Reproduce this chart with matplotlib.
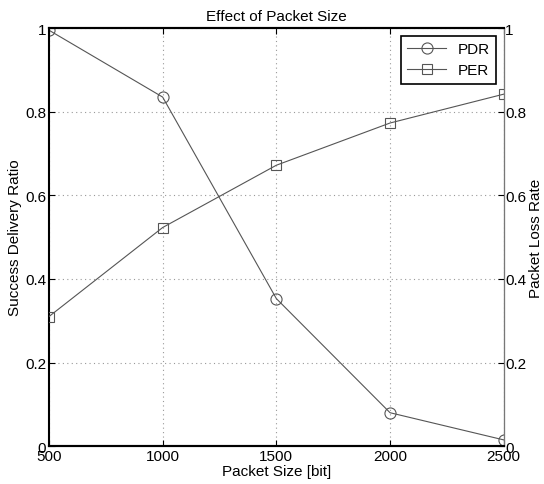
import matplotlib
matplotlib.use('Agg')
import matplotlib.pyplot as plt

plt.rcParams['font.family'] = ['Liberation Sans', 'DejaVu Sans']

packet_size = [500, 1000, 1500, 2000, 2500]
pdr = [0.995, 0.835, 0.353, 0.080, 0.015]
per = [0.310, 0.523, 0.672, 0.773, 0.842]

xticks = [500, 1000, 1500, 2000, 2500]
yticks = [0, 0.2, 0.4, 0.6, 0.8, 1]
ytick_labels = ['0', '0.2', '0.4', '0.6', '0.8', '1']

fig = plt.figure(figsize=(5.44, 4.85), dpi=100)
ax1 = fig.add_axes([0.090, 0.078, 0.836, 0.862])
ax2 = ax1.twinx()

line_col = '#555555'
l1, = ax1.plot(packet_size, pdr, color=line_col, lw=0.8, marker='o', ms=8,
               mfc='none', mec=line_col, mew=0.8, label='PDR')
l2, = ax2.plot(packet_size, per, color=line_col, lw=0.8, marker='s', ms=7,
               mfc='none', mec=line_col, mew=0.8, label='PER')

for ax in (ax1, ax2):
    ax.set_xlim(500, 2500)
    ax.set_ylim(0, 1)
    ax.set_yticks(yticks)
    ax.set_yticklabels(ytick_labels)
    ax.tick_params(direction='in', length=4, labelsize=11, pad=2)
ax2.tick_params(pad=1)
ax1.set_xticks(xticks)
ax1.tick_params(top=True)
ax1.grid(True, color='#999999', linestyle=(0, (1, 3)), linewidth=0.8)

for s in ['left', 'bottom', 'top']:
    ax1.spines[s].set_linewidth(1.5)
ax2.spines['right'].set_color('#777777')
ax2.spines['left'].set_visible(False)
ax2.spines['top'].set_linewidth(1.5)
ax2.spines['bottom'].set_linewidth(1.5)

ax1.set_xlabel('Packet Size [bit]', fontsize=11, labelpad=1)
ax1.set_ylabel('Success Delivery Ratio', fontsize=11, labelpad=2)
ax2.set_ylabel('Packet Loss Rate', fontsize=11, labelpad=2)
ax1.set_title('Effect of Packet Size', fontsize=11, pad=6)

leg = ax2.legend([l1, l2], ['PDR', 'PER'], loc='upper right', fontsize=11,
                 fancybox=False, edgecolor='black', framealpha=1,
                 handlelength=2.5, borderaxespad=0.5)
leg.get_frame().set_linewidth(1.2)

fig.savefig('out.png', dpi=100)
